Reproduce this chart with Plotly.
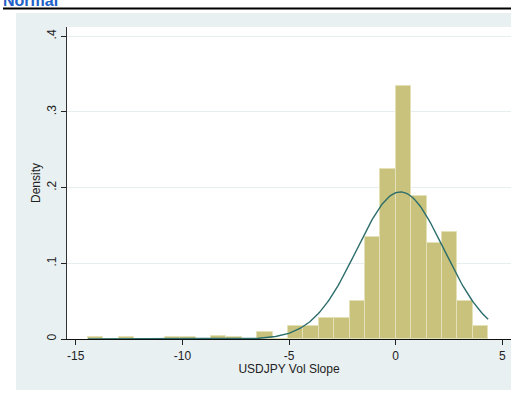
import numpy as np
import plotly.graph_objects as go

# Histogram of USDJPY vol slope (density scale), 26 bins
bin_start = -14.43
bin_width = 0.7217
density = [0.0022, 0.0, 0.0022, 0.0, 0.0, 0.0022, 0.0022, 0.0, 0.0042, 0.0022,
           0.0, 0.0093, 0.0, 0.0172, 0.0172, 0.0278, 0.0278, 0.0498, 0.1344,
           0.2247, 0.3339, 0.1885, 0.1264, 0.1419, 0.0498, 0.0172]

# Fitted normal overlay
norm_mean = 0.22
norm_sd = 2.053

x_ticks = [-15, -10, -5, 0, 5]
x_tick_text = ["-15", "-10", "-5", "0", "5"]
y_ticks = [0, 0.1, 0.2, 0.3, 0.4]
y_tick_text = ["0", ".1", ".2", ".3", ".4"]

centers = [bin_start + (i + 0.5) * bin_width for i in range(len(density))]
x_lo = bin_start
x_hi = bin_start + len(density) * bin_width
xs = np.linspace(x_lo, x_hi, 300)
pdf = np.exp(-0.5 * ((xs - norm_mean) / norm_sd) ** 2) / (norm_sd * np.sqrt(2 * np.pi))

font = "Liberation Sans, Arial, sans-serif"
panel = "#e9f0f2"

fig = go.Figure()
fig.add_trace(go.Bar(
    x=centers, y=density, width=bin_width,
    marker=dict(color="#c9c27c", line=dict(color="#e4e0b8", width=1)),
    hoverinfo="skip",
))
fig.add_trace(go.Scatter(
    x=xs, y=pdf, mode="lines",
    line=dict(color="#2b6d6b", width=1.4),
    hoverinfo="skip",
))

W, H = 511, 398
ml, mr, mt, mb = 67, 0, 27, 59
pw, ph = W - ml - mr, H - mt - mb


def px_x(p):
    return (p - ml) / pw


def px_y(p):
    return (H - mb - p) / ph


fig.update_layout(
    width=W, height=H,
    margin=dict(l=ml, r=mr, t=mt, b=mb, pad=0),
    paper_bgcolor="white",
    plot_bgcolor="white",
    showlegend=False,
    bargap=0,
    font=dict(family=font, size=12, color="#222222"),
    shapes=[
        # outer graph region
        dict(type="rect", xref="paper", yref="paper", layer="below",
             x0=px_x(16), x1=px_x(520), y0=px_y(390), y1=px_y(13),
             fillcolor=panel, line=dict(width=0)),
        # plot region
        dict(type="rect", xref="paper", yref="paper", layer="below",
             x0=0, x1=1, y0=0, y1=1,
             fillcolor="white", line=dict(width=0)),
        # rule under the heading
        dict(type="line", xref="paper", yref="paper",
             x0=px_x(3), x1=px_x(520), y0=px_y(8.5), y1=px_y(8.5),
             line=dict(color="black", width=2.2)),
    ],
    annotations=[
        dict(text="<b>Normal</b>", xref="paper", yref="paper",
             x=px_x(1), y=px_y(11.5), xanchor="left", yanchor="bottom",
             showarrow=False, font=dict(family=font, size=16, color="#2060c8")),
    ],
)

fig.update_xaxes(
    range=[-15.41, 5.405],
    tickmode="array", tickvals=x_ticks, ticktext=x_tick_text,
    ticks="outside", ticklen=5, tickcolor="#222222", tickwidth=1,
    showline=True, linecolor="#111111", linewidth=1.2,
    showgrid=False, zeroline=False,
    tickfont=dict(family=font, size=12, color="#222222"),
    title=dict(text="USDJPY Vol Slope", font=dict(family=font, size=12, color="#222222"), standoff=2),
)
fig.update_yaxes(
    range=[0, 0.4122],
    tickmode="array", tickvals=y_ticks, ticktext=y_tick_text,
    tickangle=-90,
    ticklabelstandoff=0,
    ticks="outside", ticklen=5, tickcolor="#222222", tickwidth=1,
    showline=True, linecolor="#333333", linewidth=1.2,
    showgrid=True, gridcolor="#e6eef0", gridwidth=1,
    zeroline=False,
    tickfont=dict(family=font, size=12, color="#222222"),
    title=dict(text="Density", font=dict(family=font, size=12, color="#222222"), standoff=1),
)

fig.write_html("out.html")
